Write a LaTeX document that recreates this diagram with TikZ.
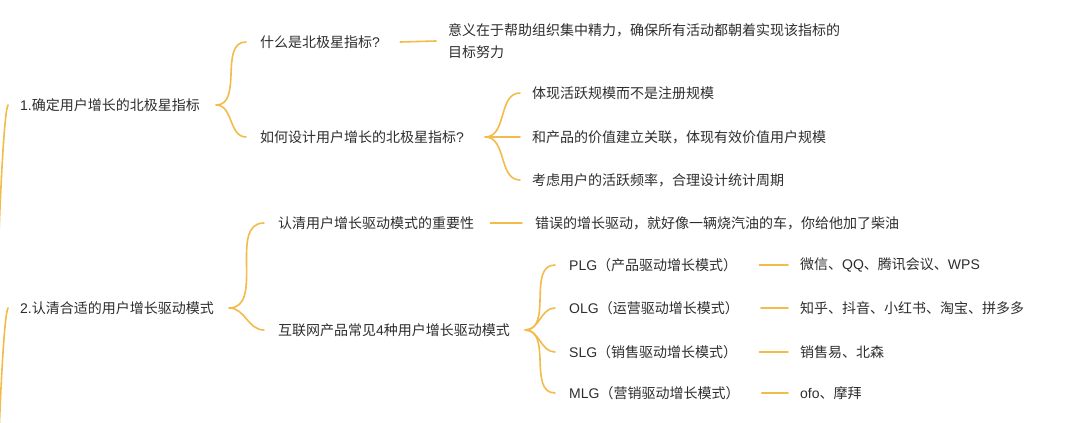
\documentclass[tikz,border=0pt]{standalone}
\usepackage{fontspec}
\setmainfont{Noto Sans CJK SC}
\newfontfamily\latin{Liberation Sans}
\usetikzlibrary{positioning}

\definecolor{linkc}{RGB}{242,187,74}
\definecolor{textc}{RGB}{45,45,45}

\tikzset{
    topic/.style={anchor=west, inner sep=0pt, text=textc, font=\fontsize{14}{20}\selectfont},
    leaf/.style={anchor=west, inner sep=0pt, text=textc, align=left, font=\fontsize{14}{22}\selectfont},
    link/.style={draw=linkc, line width=1.6pt, line cap=round},
}

\begin{document}
\begin{tikzpicture}[x=1pt,y=-1pt]
    \useasboundingbox (0,0) rectangle (1080,423);
    \clip (0,0) rectangle (1080,423);

    % root branches come in from beyond the left edge
    \coordinate (r1) at (-2,262);
    \coordinate (r2) at (-2,465);

    % first topic
    \node[topic] (t1) at (20,105) {{\latin 1.}确定用户增长的北极星指标};
    \node[leaf] (s1) at (260,42) {什么是北极星指标{\latin ?}};
    \node[leaf] (d1) at (448,41) {意义在于帮助组织集中精力，确保所有活动都朝着实现该指标的\\目标努力};
    \node[leaf] (s2) at (260,137) {如何设计用户增长的北极星指标{\latin ?}};
    \node[leaf] (d2) at (532,93)  {体现活跃规模而不是注册规模};
    \node[leaf] (d3) at (532,137) {和产品的价值建立关联，体现有效价值用户规模};
    \node[leaf] (d4) at (532,180) {考虑用户的活跃频率，合理设计统计周期};

    % second topic
    \node[topic] (t2) at (20,308) {{\latin 2.}认清合适的用户增长驱动模式};
    \node[leaf] (s3) at (278,223) {认清用户增长驱动模式的重要性};
    \node[leaf] (d5) at (535,223) {错误的增长驱动，就好像一辆烧汽油的车，你给他加了柴油};
    \node[leaf] (s4) at (278,330) {互联网产品常见{\latin 4}种用户增长驱动模式};

    \node[leaf] (m1) at (569,265) {{\latin PLG}（产品驱动增长模式）};
    \node[leaf] (m2) at (569,308) {{\latin OLG}（运营驱动增长模式）};
    \node[leaf] (m3) at (569,352) {{\latin SLG}（销售驱动增长模式）};
    \node[leaf] (m4) at (569,393) {{\latin MLG}（营销驱动增长模式）};

    \node[leaf] (e1) at (800,265) {微信、{\latin QQ}、腾讯会议、{\latin WPS}};
    \node[leaf] (e2) at (800,308) {知乎、抖音、小红书、淘宝、拼多多};
    \node[leaf] (e3) at (800,352) {销售易、北森};
    \node[leaf] (e4) at (800,393) {{\latin ofo}、摩拜};

    % bracket tips
    \coordinate[right=16pt of t1] (t1r);
    \coordinate[right=21pt of s2] (s2r);
    \coordinate[right=15pt of t2] (t2r);
    \coordinate[right=15pt of s4] (s4r);

    % root links
    \draw[link] (r1) .. controls (0,200) and (4,112) .. ([xshift=-12pt]t1.west);
    \draw[link] (r2) .. controls (0,400) and (4,315) .. ([xshift=-12pt]t2.west);

    % brackets
    \draw[link] (t1r) to[out=0,in=180] ([xshift=-14pt]s1.west);
    \draw[link] (t1r) to[out=0,in=180] ([xshift=-14pt]s2.west);
    \draw[link] (s2r) to[out=0,in=180] ([xshift=-12pt]d2.west);
    \draw[link] (s2r) -- ([xshift=-12pt]d3.west);
    \draw[link] (s2r) to[out=0,in=180] ([xshift=-12pt]d4.west);
    \draw[link] (t2r) to[out=0,in=180] ([xshift=-14pt]s3.west);
    \draw[link] (t2r) to[out=0,in=180] ([xshift=-14pt]s4.west);
    \draw[link] (s4r) to[out=0,in=180] ([xshift=-14pt]m1.west);
    \draw[link] (s4r) to[out=0,in=180] ([xshift=-14pt]m2.west);
    \draw[link] (s4r) to[out=0,in=180] ([xshift=-14pt]m3.west);
    \draw[link] (s4r) to[out=0,in=180] ([xshift=-14pt]m4.west);

    % straight links
    \draw[link] ([xshift=20pt]s1.east) -- ([xshift=-12pt]d1.west);
    \draw[link] ([xshift=16pt]s3.east) -- ([xshift=-13pt]d5.west);
    \draw[link] ([xshift=22pt]m1.east) -- ([xshift=-12pt]e1.west);
    \draw[link] ([xshift=22pt]m2.east) -- ([xshift=-12pt]e2.west);
    \draw[link] ([xshift=22pt]m3.east) -- ([xshift=-12pt]e3.west);
    \draw[link] ([xshift=22pt]m4.east) -- ([xshift=-12pt]e4.west);
\end{tikzpicture}
\end{document}
